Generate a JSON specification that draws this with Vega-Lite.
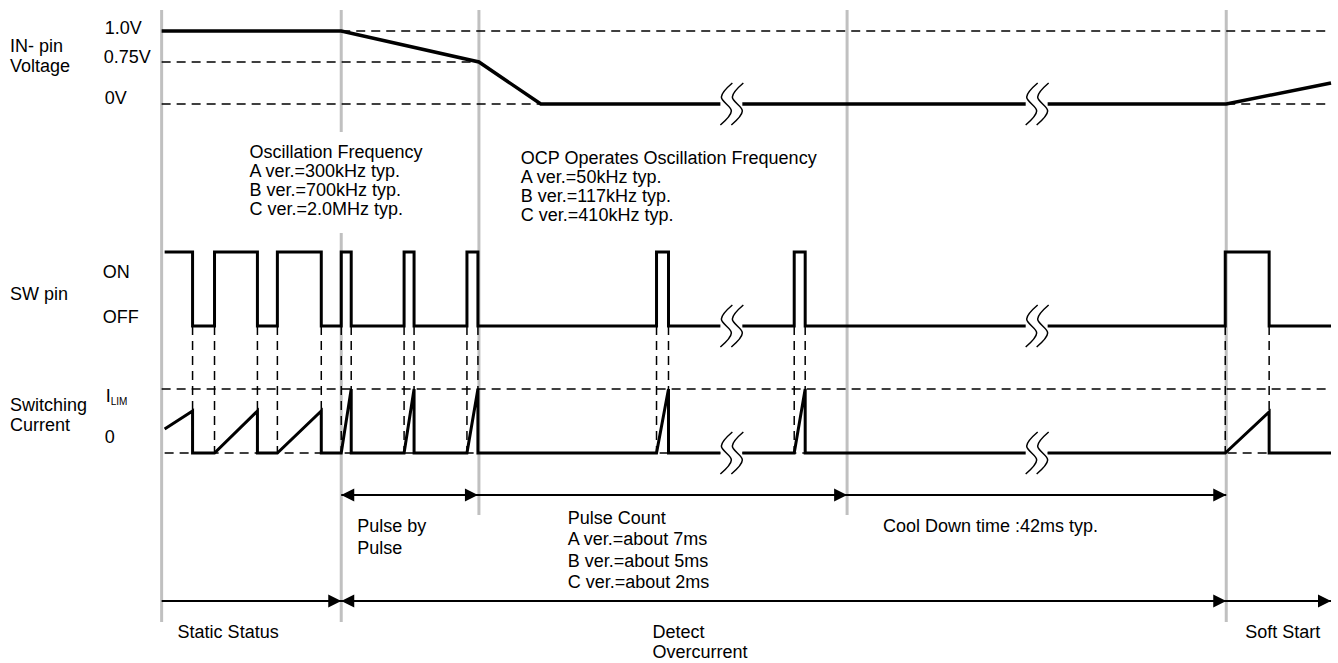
{
  "$schema": "https://vega.github.io/schema/vega-lite/v6.json",
  "width": 1338,
  "height": 663,
  "autosize": {"type": "fit", "contains": "padding"},
  "padding": 0,
  "background": "white",
  "config": {"view": {"stroke": null}},
  "datasets": {
    "gray": [
      {"x": 162, "x2": 162, "y": 10, "y2": 622},
      {"x": 342, "x2": 342, "y": 10, "y2": 132},
      {"x": 342, "x2": 342, "y": 233, "y2": 622},
      {"x": 480, "x2": 480, "y": 10, "y2": 515},
      {"x": 849, "x2": 849, "y": 10, "y2": 515},
      {"x": 1229, "x2": 1229, "y": 10, "y2": 622}
    ],
    "dash": [
      {"x": 342, "x2": 1334, "y": 31, "y2": 31},
      {"x": 162, "x2": 480, "y": 62, "y2": 62},
      {"x": 162, "x2": 542, "y": 104, "y2": 104},
      {"x": 1229, "x2": 1334, "y": 104, "y2": 104},
      {"x": 162, "x2": 1334, "y": 389, "y2": 389},
      {"x": 165, "x2": 722, "y": 453, "y2": 453},
      {"x": 744, "x2": 1028, "y": 453, "y2": 453},
      {"x": 1050, "x2": 1334, "y": 453, "y2": 453},
      {"x": 193, "x2": 193, "y": 326, "y2": 453},
      {"x": 215, "x2": 215, "y": 326, "y2": 453},
      {"x": 258, "x2": 258, "y": 326, "y2": 453},
      {"x": 278, "x2": 278, "y": 326, "y2": 453},
      {"x": 322, "x2": 322, "y": 326, "y2": 453},
      {"x": 342, "x2": 342, "y": 326, "y2": 453},
      {"x": 352, "x2": 352, "y": 326, "y2": 453},
      {"x": 405, "x2": 405, "y": 326, "y2": 453},
      {"x": 415, "x2": 415, "y": 326, "y2": 453},
      {"x": 468, "x2": 468, "y": 326, "y2": 453},
      {"x": 479, "x2": 479, "y": 326, "y2": 453},
      {"x": 658, "x2": 658, "y": 326, "y2": 453},
      {"x": 670, "x2": 670, "y": 326, "y2": 453},
      {"x": 796, "x2": 796, "y": 326, "y2": 453},
      {"x": 807, "x2": 807, "y": 326, "y2": 453},
      {"x": 1228, "x2": 1228, "y": 326, "y2": 453},
      {"x": 1272, "x2": 1272, "y": 326, "y2": 453}
    ],
    "arrows": [
      {"x": 342, "x2": 1229, "y": 495, "y2": 495},
      {"x": 162, "x2": 1334, "y": 601, "y2": 601}
    ],
    "heads": [
      {"x": 342, "y": 495, "d": "l"},
      {"x": 479, "y": 495, "d": "r"},
      {"x": 849, "y": 495, "d": "r"},
      {"x": 1229, "y": 495, "d": "r"},
      {"x": 342, "y": 601, "d": "r"},
      {"x": 342, "y": 601, "d": "l"},
      {"x": 1229, "y": 601, "d": "r"},
      {"x": 1334, "y": 601, "d": "r"}
    ],
    "volt": [
      {"s": "V1", "i": 1, "x": 162, "y": 31},
      {"s": "V1", "i": 2, "x": 342, "y": 31},
      {"s": "V1", "i": 3, "x": 480, "y": 62},
      {"s": "V1", "i": 4, "x": 542, "y": 104},
      {"s": "V1", "i": 5, "x": 722, "y": 104},
      {"s": "V2", "i": 1, "x": 744, "y": 104},
      {"s": "V2", "i": 2, "x": 1028, "y": 104},
      {"s": "V3", "i": 1, "x": 1050, "y": 104},
      {"s": "V3", "i": 2, "x": 1229, "y": 104},
      {"s": "V3", "i": 3, "x": 1334, "y": 83}
    ],
    "wave": [
      {"s": "S1", "i": 1, "x": 165, "y": 252},
      {"s": "S1", "i": 2, "x": 193, "y": 252},
      {"s": "S1", "i": 3, "x": 193, "y": 326},
      {"s": "S1", "i": 4, "x": 215, "y": 326},
      {"s": "S1", "i": 5, "x": 215, "y": 252},
      {"s": "S1", "i": 6, "x": 258, "y": 252},
      {"s": "S1", "i": 7, "x": 258, "y": 326},
      {"s": "S1", "i": 8, "x": 278, "y": 326},
      {"s": "S1", "i": 9, "x": 278, "y": 252},
      {"s": "S1", "i": 10, "x": 322, "y": 252},
      {"s": "S1", "i": 11, "x": 322, "y": 326},
      {"s": "S1", "i": 12, "x": 342, "y": 326},
      {"s": "S1", "i": 13, "x": 342, "y": 252},
      {"s": "S1", "i": 14, "x": 352, "y": 252},
      {"s": "S1", "i": 15, "x": 352, "y": 326},
      {"s": "S1", "i": 16, "x": 405, "y": 326},
      {"s": "S1", "i": 17, "x": 405, "y": 252},
      {"s": "S1", "i": 18, "x": 415, "y": 252},
      {"s": "S1", "i": 19, "x": 415, "y": 326},
      {"s": "S1", "i": 20, "x": 468, "y": 326},
      {"s": "S1", "i": 21, "x": 468, "y": 252},
      {"s": "S1", "i": 22, "x": 479, "y": 252},
      {"s": "S1", "i": 23, "x": 479, "y": 326},
      {"s": "S1", "i": 24, "x": 658, "y": 326},
      {"s": "S1", "i": 25, "x": 658, "y": 252},
      {"s": "S1", "i": 26, "x": 670, "y": 252},
      {"s": "S1", "i": 27, "x": 670, "y": 326},
      {"s": "S1", "i": 28, "x": 722, "y": 326},
      {"s": "S2", "i": 1, "x": 744, "y": 326},
      {"s": "S2", "i": 2, "x": 796, "y": 326},
      {"s": "S2", "i": 3, "x": 796, "y": 252},
      {"s": "S2", "i": 4, "x": 807, "y": 252},
      {"s": "S2", "i": 5, "x": 807, "y": 326},
      {"s": "S2", "i": 6, "x": 1028, "y": 326},
      {"s": "S3", "i": 1, "x": 1050, "y": 326},
      {"s": "S3", "i": 2, "x": 1228, "y": 326},
      {"s": "S3", "i": 3, "x": 1228, "y": 252},
      {"s": "S3", "i": 4, "x": 1272, "y": 252},
      {"s": "S3", "i": 5, "x": 1272, "y": 326},
      {"s": "S3", "i": 6, "x": 1334, "y": 326},
      {"s": "C1", "i": 1, "x": 165, "y": 429},
      {"s": "C1", "i": 2, "x": 193, "y": 411},
      {"s": "C1", "i": 3, "x": 193, "y": 453},
      {"s": "C1", "i": 4, "x": 215, "y": 453},
      {"s": "C1", "i": 5, "x": 258, "y": 411},
      {"s": "C1", "i": 6, "x": 258, "y": 453},
      {"s": "C1", "i": 7, "x": 278, "y": 453},
      {"s": "C1", "i": 8, "x": 322, "y": 411},
      {"s": "C1", "i": 9, "x": 322, "y": 453},
      {"s": "C1", "i": 10, "x": 342, "y": 453},
      {"s": "C1", "i": 11, "x": 352, "y": 389},
      {"s": "C1", "i": 12, "x": 352, "y": 453},
      {"s": "C1", "i": 13, "x": 405, "y": 453},
      {"s": "C1", "i": 14, "x": 415, "y": 389},
      {"s": "C1", "i": 15, "x": 415, "y": 453},
      {"s": "C1", "i": 16, "x": 468, "y": 453},
      {"s": "C1", "i": 17, "x": 479, "y": 389},
      {"s": "C1", "i": 18, "x": 479, "y": 453},
      {"s": "C1", "i": 19, "x": 658, "y": 453},
      {"s": "C1", "i": 20, "x": 670, "y": 389},
      {"s": "C1", "i": 21, "x": 670, "y": 453},
      {"s": "C1", "i": 22, "x": 722, "y": 453},
      {"s": "C2", "i": 1, "x": 744, "y": 453},
      {"s": "C2", "i": 2, "x": 796, "y": 453},
      {"s": "C2", "i": 3, "x": 807, "y": 389},
      {"s": "C2", "i": 4, "x": 807, "y": 453},
      {"s": "C2", "i": 5, "x": 1028, "y": 453},
      {"s": "C3", "i": 1, "x": 1050, "y": 453},
      {"s": "C3", "i": 2, "x": 1228, "y": 453},
      {"s": "C3", "i": 3, "x": 1272, "y": 412},
      {"s": "C3", "i": 4, "x": 1272, "y": 453},
      {"s": "C3", "i": 5, "x": 1334, "y": 453}
    ],
    "breaks": [
      {"b": "a1", "i": 1, "x": 734, "y": 83}, {"b": "a1", "i": 2, "x": 723, "y": 97}, {"b": "a1", "i": 3, "x": 733, "y": 111}, {"b": "a1", "i": 4, "x": 722, "y": 125},
      {"b": "a2", "i": 1, "x": 745, "y": 83}, {"b": "a2", "i": 2, "x": 734, "y": 97}, {"b": "a2", "i": 3, "x": 744, "y": 111}, {"b": "a2", "i": 4, "x": 733, "y": 125},
      {"b": "a3", "i": 1, "x": 1040, "y": 83}, {"b": "a3", "i": 2, "x": 1029, "y": 97}, {"b": "a3", "i": 3, "x": 1039, "y": 111}, {"b": "a3", "i": 4, "x": 1028, "y": 125},
      {"b": "a4", "i": 1, "x": 1051, "y": 83}, {"b": "a4", "i": 2, "x": 1040, "y": 97}, {"b": "a4", "i": 3, "x": 1050, "y": 111}, {"b": "a4", "i": 4, "x": 1039, "y": 125},
      {"b": "b1", "i": 1, "x": 734, "y": 305}, {"b": "b1", "i": 2, "x": 723, "y": 319}, {"b": "b1", "i": 3, "x": 733, "y": 333}, {"b": "b1", "i": 4, "x": 722, "y": 347},
      {"b": "b2", "i": 1, "x": 745, "y": 305}, {"b": "b2", "i": 2, "x": 734, "y": 319}, {"b": "b2", "i": 3, "x": 744, "y": 333}, {"b": "b2", "i": 4, "x": 733, "y": 347},
      {"b": "b3", "i": 1, "x": 1040, "y": 305}, {"b": "b3", "i": 2, "x": 1029, "y": 319}, {"b": "b3", "i": 3, "x": 1039, "y": 333}, {"b": "b3", "i": 4, "x": 1028, "y": 347},
      {"b": "b4", "i": 1, "x": 1051, "y": 305}, {"b": "b4", "i": 2, "x": 1040, "y": 319}, {"b": "b4", "i": 3, "x": 1050, "y": 333}, {"b": "b4", "i": 4, "x": 1039, "y": 347},
      {"b": "c1", "i": 1, "x": 734, "y": 432}, {"b": "c1", "i": 2, "x": 723, "y": 446}, {"b": "c1", "i": 3, "x": 733, "y": 460}, {"b": "c1", "i": 4, "x": 722, "y": 474},
      {"b": "c2", "i": 1, "x": 745, "y": 432}, {"b": "c2", "i": 2, "x": 734, "y": 446}, {"b": "c2", "i": 3, "x": 744, "y": 460}, {"b": "c2", "i": 4, "x": 733, "y": 474},
      {"b": "c3", "i": 1, "x": 1040, "y": 432}, {"b": "c3", "i": 2, "x": 1029, "y": 446}, {"b": "c3", "i": 3, "x": 1039, "y": 460}, {"b": "c3", "i": 4, "x": 1028, "y": 474},
      {"b": "c4", "i": 1, "x": 1051, "y": 432}, {"b": "c4", "i": 2, "x": 1040, "y": 446}, {"b": "c4", "i": 3, "x": 1050, "y": 460}, {"b": "c4", "i": 4, "x": 1039, "y": 474}
    ],
    "texts": [
      {"x": 10, "y": 47, "t": "IN- pin"},
      {"x": 10, "y": 67, "t": "Voltage"},
      {"x": 105, "y": 29, "t": "1.0V"},
      {"x": 104, "y": 58, "t": "0.75V"},
      {"x": 105, "y": 99, "t": "0V"},
      {"x": 10, "y": 295, "t": "SW pin"},
      {"x": 103, "y": 273, "t": "ON"},
      {"x": 103, "y": 318, "t": "OFF"},
      {"x": 10, "y": 406, "t": "Switching"},
      {"x": 10, "y": 426, "t": "Current"},
      {"x": 106, "y": 397, "t": "I"},
      {"x": 105, "y": 438, "t": "0"},
      {"x": 250, "y": 153, "t": "Oscillation Frequency"},
      {"x": 250, "y": 172, "t": "A ver.=300kHz typ."},
      {"x": 250, "y": 191, "t": "B ver.=700kHz typ."},
      {"x": 250, "y": 210, "t": "C ver.=2.0MHz typ."},
      {"x": 522, "y": 159, "t": "OCP Operates Oscillation Frequency"},
      {"x": 522, "y": 178, "t": "A ver.=50kHz typ."},
      {"x": 522, "y": 197, "t": "B ver.=117kHz typ."},
      {"x": 522, "y": 216, "t": "C ver.=410kHz typ."},
      {"x": 358, "y": 527, "t": "Pulse by"},
      {"x": 358, "y": 549, "t": "Pulse"},
      {"x": 569, "y": 519, "t": "Pulse Count"},
      {"x": 569, "y": 540, "t": "A ver.=about 7ms"},
      {"x": 569, "y": 562, "t": "B ver.=about 5ms"},
      {"x": 569, "y": 583, "t": "C ver.=about 2ms"},
      {"x": 885, "y": 527, "t": "Cool Down time :42ms typ."},
      {"x": 178, "y": 633, "t": "Static Status"},
      {"x": 654, "y": 633, "t": "Detect"},
      {"x": 654, "y": 653, "t": "Overcurrent"},
      {"x": 1248, "y": 633, "t": "Soft Start"}
    ],
    "subs": [
      {"x": 111, "y": 402, "t": "LIM"}
    ]
  },
  "encoding": {
    "x": {"field": "x", "type": "quantitative", "scale": {"domain": [0, 1338], "nice": false, "zero": false}, "axis": null},
    "y": {"field": "y", "type": "quantitative", "scale": {"domain": [0, 663], "nice": false, "zero": false, "reverse": true}, "axis": null}
  },
  "layer": [
    {
      "data": {"name": "gray"},
      "mark": {"type": "rule", "color": "#c0c0c0", "strokeWidth": 3},
      "encoding": {"x2": {"field": "x2"}, "y2": {"field": "y2"}}
    },
    {
      "data": {"name": "dash"},
      "mark": {"type": "rule", "color": "black", "strokeWidth": 1.5, "strokeDash": [9, 6]},
      "encoding": {"x2": {"field": "x2"}, "y2": {"field": "y2"}}
    },
    {
      "data": {"name": "arrows"},
      "mark": {"type": "rule", "color": "black", "strokeWidth": 2},
      "encoding": {"x2": {"field": "x2"}, "y2": {"field": "y2"}}
    },
    {
      "data": {"name": "heads"},
      "mark": {"type": "point", "filled": true, "color": "black", "opacity": 1, "size": 169, "strokeWidth": 0},
      "encoding": {
        "shape": {"field": "d", "type": "nominal", "scale": {"domain": ["r", "l"], "range": ["M0,0L-2,-1L-2,1Z", "M0,0L2,-1L2,1Z"]}, "legend": null}
      }
    },
    {
      "data": {"name": "volt"},
      "mark": {"type": "line", "color": "black", "strokeWidth": 3.5, "strokeJoin": "miter"},
      "encoding": {"detail": {"field": "s"}, "order": {"field": "i", "type": "quantitative"}}
    },
    {
      "data": {"name": "wave"},
      "mark": {"type": "line", "color": "black", "strokeWidth": 3, "strokeJoin": "miter"},
      "encoding": {"detail": {"field": "s"}, "order": {"field": "i", "type": "quantitative"}}
    },
    {
      "data": {"name": "breaks"},
      "mark": {"type": "line", "color": "black", "strokeWidth": 1.5, "interpolate": "catmull-rom"},
      "encoding": {"detail": {"field": "b"}, "order": {"field": "i", "type": "quantitative"}}
    },
    {
      "data": {"name": "texts"},
      "mark": {"type": "text", "align": "left", "baseline": "middle", "font": "Liberation Sans", "fontSize": 18, "color": "black"},
      "encoding": {"text": {"field": "t"}}
    },
    {
      "data": {"name": "subs"},
      "mark": {"type": "text", "align": "left", "baseline": "middle", "font": "Liberation Sans", "fontSize": 10, "color": "black"},
      "encoding": {"text": {"field": "t"}}
    }
  ]
}
